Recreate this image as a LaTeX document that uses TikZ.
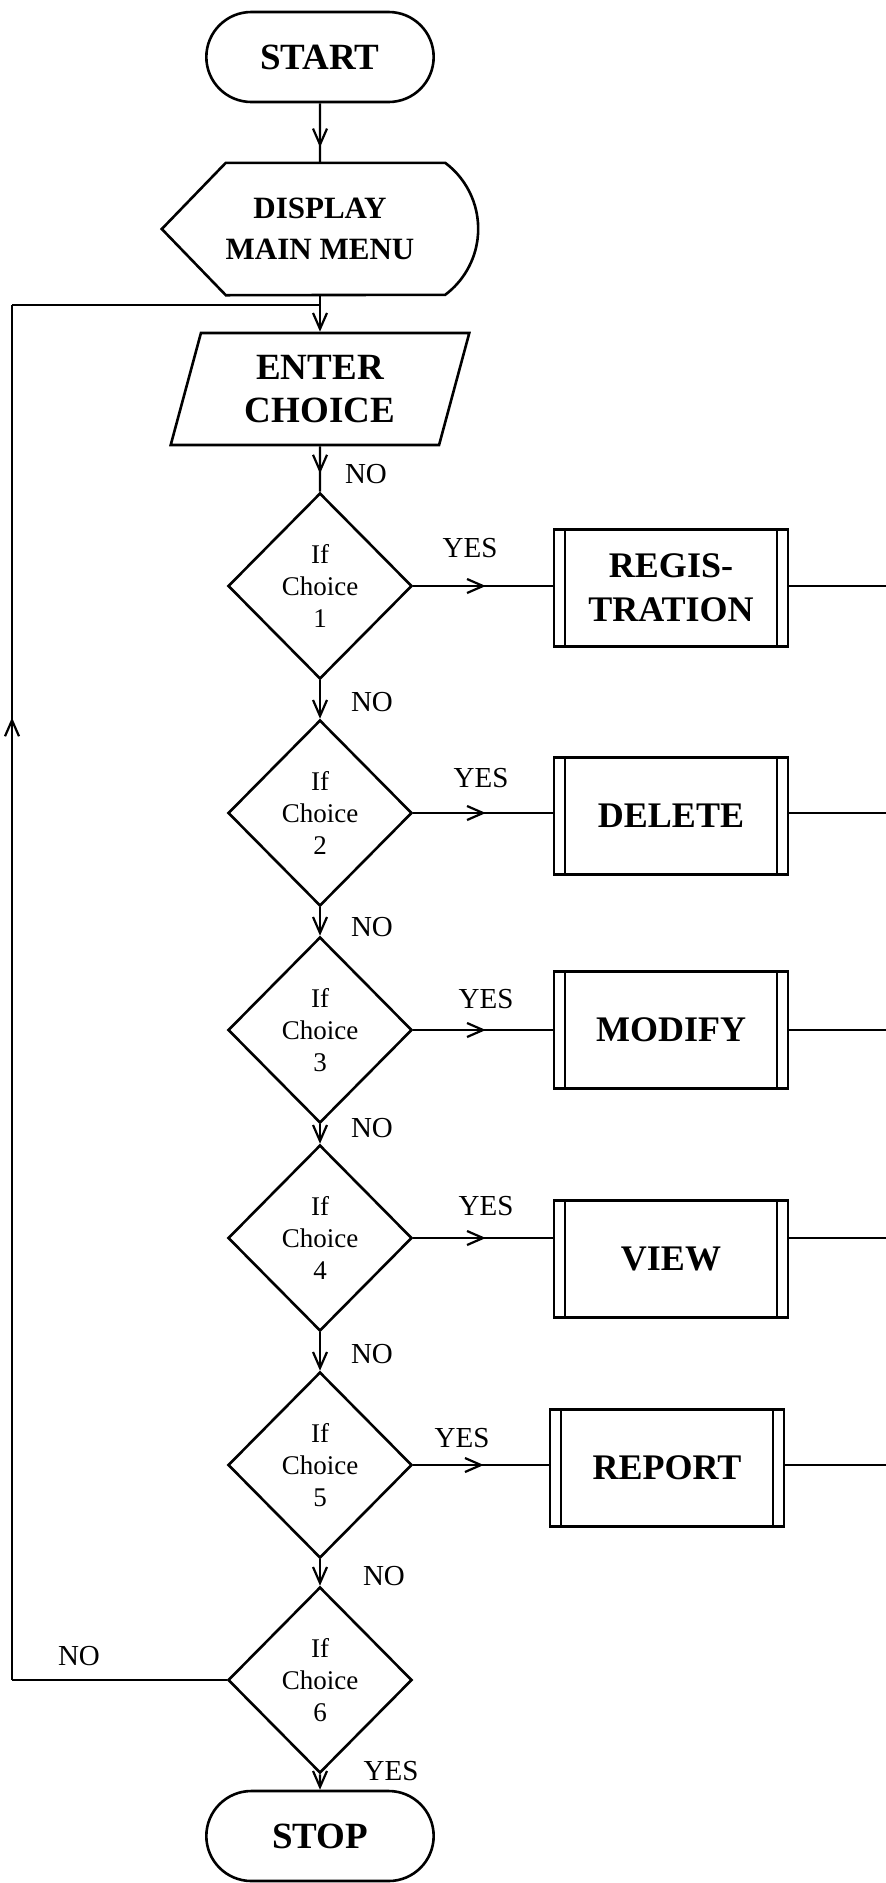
\documentclass[tikz,border=0pt]{standalone}
\usepackage{fontspec}
\setmainfont{Liberation Serif}
\usetikzlibrary{shapes.geometric,shapes.misc,arrows.meta,decorations.markings}

\tikzset{
  >={Straight Barb[length=16pt,width=14pt]},
  flowline/.style={line width=2.2pt},
  terminal/.style={draw, rounded rectangle, line width=2.6pt, minimum width=234pt, minimum height=90pt, font=\fontsize{37}{42}\selectfont\bfseries},
  inputbox/.style={draw, trapezium, trapezium left angle=75, trapezium right angle=105, trapezium stretches=true, line width=2.6pt, minimum width=299pt, minimum height=112pt, align=center, font=\fontsize{37}{43}\selectfont\bfseries},
  decision/.style={draw, diamond, line width=2.6pt, minimum width=184pt, minimum height=186pt, inner sep=0pt, align=center, font=\fontsize{27}{32}\selectfont},
  procbox/.style={draw, rectangle, line width=2.6pt, minimum width=234pt, minimum height=117pt, align=center, font=\fontsize{36}{44}\selectfont\bfseries,
    path picture={\draw[line width=2.2pt] ([xshift=11pt]path picture bounding box.north west) -- ([xshift=11pt]path picture bounding box.south west)
      ([xshift=-11pt]path picture bounding box.north east) -- ([xshift=-11pt]path picture bounding box.south east);}},
  lbl/.style={font=\fontsize{29}{32}\selectfont},
  midarrow/.style={postaction={decorate}, decoration={markings, mark=at position #1 with {\arrow{>}}}}
}

\begin{document}
\begin{tikzpicture}[x=1pt,y=1pt]
\useasboundingbox (0,0) rectangle (886,-1883);

% Top of the chart
\node[terminal] (start) at (320,-57) {START};
\node[align=center, minimum width=316pt, minimum height=132pt, font=\fontsize{31}{41}\selectfont\bfseries] (disp) at (320,-229) {DISPLAY\\MAIN MENU};
\draw[line width=2.6pt] (disp.west) -- ([xshift=64pt]disp.north west) -- ([xshift=-33pt]disp.north east)
  arc[start angle=53.13, end angle=-53.13, radius=82.5] -- ([xshift=64pt]disp.south west) -- cycle;
\node[inputbox] (enter) at (320,-389) {ENTER\\CHOICE};

% Decisions
\node[decision] (d1) at (320,-586) {If\\Choice\\1};
\node[decision] (d2) at (320,-813) {If\\Choice\\2};
\node[decision] (d3) at (320,-1030) {If\\Choice\\3};
\node[decision] (d4) at (320,-1238) {If\\Choice\\4};
\node[decision] (d5) at (320,-1465) {If\\Choice\\5};
\node[decision] (d6) at (320,-1680) {If\\Choice\\6};

\node[terminal] (stop) at (320,-1836) {STOP};

% Modules
\node[procbox] (reg) at (671,-588) {REGIS-\\TRATION};
\node[procbox] (del) at (671,-816) {DELETE};
\node[procbox] (mod) at (671,-1030) {MODIFY};
\node[procbox] (view) at (671,-1259) {VIEW};
\node[procbox] (rep) at (667,-1468) {REPORT};

% Labels
\node[lbl] (no0) at (366,-474) {NO};
\node[lbl] (no1) at (372,-702) {NO};
\node[lbl] (no2) at (372,-927) {NO};
\node[lbl] (no3) at (372,-1128) {NO};
\node[lbl] (no4) at (372,-1354) {NO};
\node[lbl] (no5) at (384,-1576) {NO};
\node[lbl] (no6) at (79,-1656) {NO};
\node[lbl] (yes1) at (470,-548) {YES};
\node[lbl] (yes2) at (481,-778) {YES};
\node[lbl] (yes3) at (486,-999) {YES};
\node[lbl] (yes4) at (486,-1206) {YES};
\node[lbl] (yes5) at (462,-1438) {YES};
\node[lbl] (yes6) at (391,-1771) {YES};

% Main flow
\draw[flowline, midarrow=0.74] (start) -- (disp);
\draw[flowline, ->] (disp) -- (enter);
\draw[flowline, midarrow=0.6] (enter) -- (d1);
\draw[flowline, ->] (d1) -- (d2);
\draw[flowline, ->] (d2) -- (d3);
\draw[flowline, ->] (d3) -- (d4);
\draw[flowline, ->] (d4) -- (d5);
\draw[flowline, ->] (d5) -- (d6);
\draw[flowline, ->] (d6) -- (stop);

% Yes branches
\foreach \d/\b in {d1/reg, d2/del, d3/mod, d4/view, d5/rep} {
  \draw[flowline, midarrow=0.52] (\d.east) -- (\d.east -| \b.west);
}

% Lines leaving to the right
\coordinate (edge) at (886,0);
\foreach \d/\b in {d1/reg, d2/del, d3/mod, d4/view, d5/rep} {
  \draw[flowline] (\b.east |- \d) -- (\d -| edge);
}

% Loop back to the menu
\coordinate (loopbot) at (12,-1680);
\coordinate (looptop) at (12,-305);
\coordinate (loopjoin) at (320,-305);
\draw[flowline] (d6.west) -- (loopbot);
\draw[flowline, midarrow=0.7] (loopbot) -- (looptop);
\draw[flowline] (looptop) -- (loopjoin);
\end{tikzpicture}
\end{document}
